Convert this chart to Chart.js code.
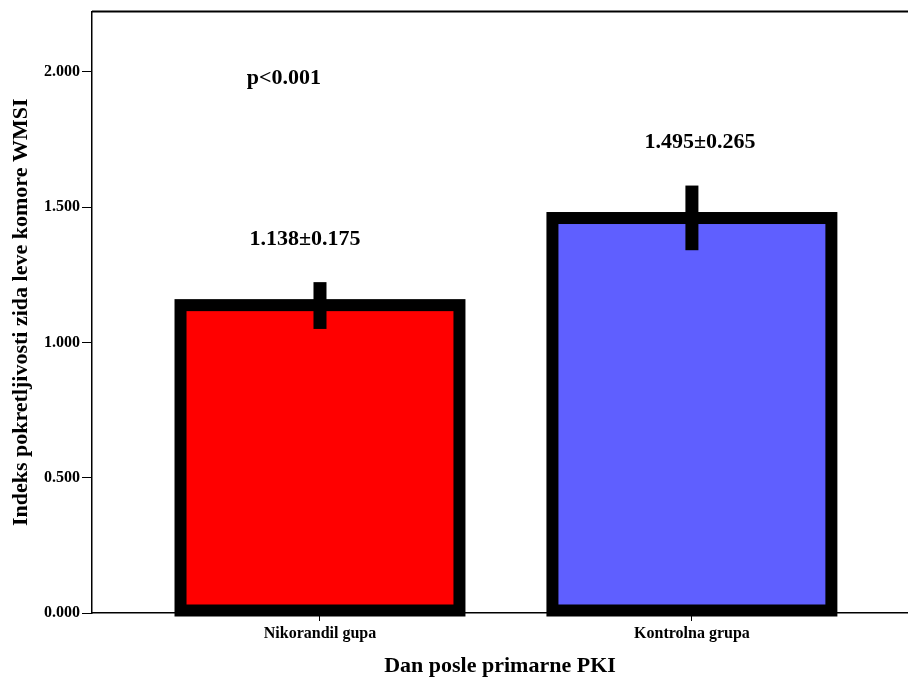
<!DOCTYPE html>
<html>
<head>
<meta charset="utf-8">
<script src="https://cdn.jsdelivr.net/npm/chart.js@4"></script>
<style>
  body { margin: 0; background: #fff; }
  #wrap { width: 908px; height: 681px; }
</style>
</head>
<body>
<div id="wrap"><canvas id="wmsi"></canvas></div>
<script>
// data
const groups = ['Nikorandil gupa', 'Kontrolna grupa'];
const means = [1.138, 1.46];
const errLow = [1.05, 1.341];
const errHigh = [1.223, 1.58];
const meanLabels = ['1.138±0.175', '1.495±0.265'];
const pLabel = 'p<0.001';
const yTicks = [0, 0.5, 1, 1.5, 2];
const barColors = ['#ff0000', '#5f5fff'];

const serif = '"Liberation Serif", "Times New Roman", serif';

// thick black outline round each bar + error bars + text
const spssBars = {
    id: 'spssBars',
    afterDatasetsDraw(chart) {
        const ctx = chart.ctx;
        const xs = chart.scales.x;
        const ys = chart.scales.y;
        const meta = chart.getDatasetMeta(0);
        ctx.save();
        meta.data.forEach((bar, i) => {
            const p = bar.getProps(['x', 'y', 'base', 'width'], true);
            ctx.lineWidth = 12;
            ctx.strokeStyle = '#000';
            ctx.strokeRect(p.x - p.width / 2, p.y, p.width, p.base - 2 - p.y);
            // error bar
            const yh = ys.getPixelForValue(errHigh[i]);
            const yl = ys.getPixelForValue(errLow[i]);
            ctx.fillStyle = '#000';
            ctx.fillRect(xs.getPixelForValue(i) - 6.5, yh, 13, yl - yh);
        });
        // top frame line
        ctx.lineWidth = 2;
        ctx.beginPath();
        ctx.moveTo(chart.chartArea.left, chart.chartArea.top);
        ctx.lineTo(chart.chartArea.right, chart.chartArea.top);
        ctx.stroke();

        ctx.font = 'bold 22px ' + serif;
        ctx.textAlign = 'center';
        ctx.textBaseline = 'middle';
        const shift = [-15, 8];
        meanLabels.forEach((t, i) => {
            ctx.fillText(t, xs.getPixelForValue(i) + shift[i], ys.getPixelForValue(errHigh[i]) - 43);
        });
        ctx.fillText(pLabel, xs.getPixelForValue(-0.097), ys.getPixelForValue(1.975));
        ctx.restore();
    }
};

new Chart(document.getElementById('wmsi'), {
    type: 'bar',
    data: {
        datasets: [{
            data: means.map((v, i) => ({ x: i, y: v })),
            backgroundColor: barColors,
            borderWidth: 0,
            barPercentage: 0.75,
            categoryPercentage: 1
        }]
    },
    options: {
        responsive: true,
        maintainAspectRatio: false,
        animation: false,
        layout: { padding: { top: 9, left: 0, right: 0, bottom: 0 } },
        plugins: {
            legend: { display: false },
            tooltip: { enabled: false }
        },
        scales: {
            x: {
                type: 'linear',
                offset: false,
                min: -0.613,
                max: 1.581,
                afterBuildTicks: (s) => { s.ticks = groups.map((g, i) => ({ value: i })); },
                afterFit: (s) => { s.height = 68; },
                ticks: {
                    autoSkip: false,
                    maxRotation: 0,
                    padding: 3,
                    color: '#000',
                    font: { family: serif, size: 16, weight: 'bold' },
                    callback: (v) => groups[v]
                },
                grid: { offset: false, drawOnChartArea: false, color: '#000', tickLength: 8 },
                border: { display: true, color: '#000', width: 1.5 },
                title: {
                    display: true,
                    text: 'Dan posle primarne PKI',
                    color: '#000',
                    font: { family: serif, size: 22, weight: 'bold' },
                    padding: { top: 0, bottom: 1 }
                }
            },
            y: {
                min: 0,
                max: 2.223,
                afterBuildTicks: (s) => { s.ticks = yTicks.map(v => ({ value: v })); },
                afterFit: (s) => { s.width = 92; },
                ticks: {
                    padding: 2,
                    color: '#000',
                    font: { family: serif, size: 16, weight: 'bold' },
                    callback: (v) => v.toFixed(3)
                },
                grid: { drawOnChartArea: false, color: '#000', tickLength: 10 },
                border: { display: true, color: '#000', width: 1.5 },
                title: {
                    display: true,
                    text: 'Indeks pokretljivosti zida leve komore WMSI',
                    color: '#000',
                    font: { family: serif, size: 22, weight: 'bold' },
                    padding: { top: 8, bottom: 0 }
                }
            }
        }
    },
    plugins: [spssBars]
});
</script>
</body>
</html>
